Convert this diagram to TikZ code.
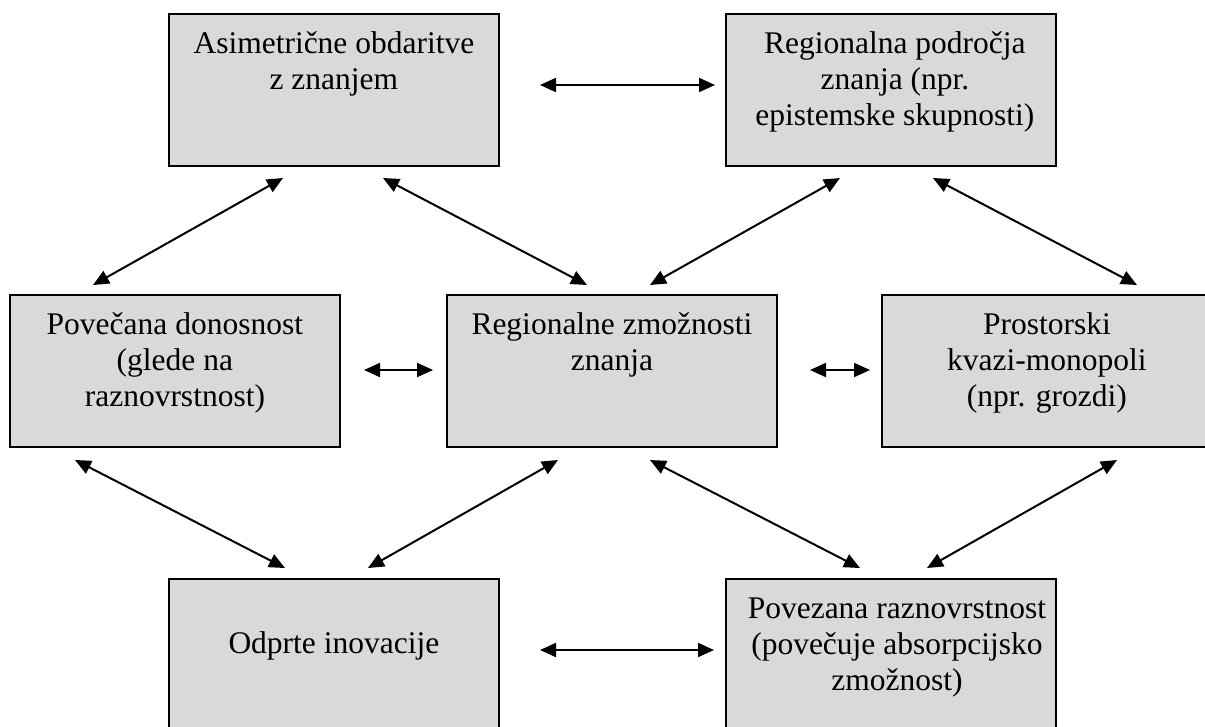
\documentclass[tikz,border=0pt]{standalone}
\usepackage{fontspec}
\setmainfont{Liberation Serif}
\usetikzlibrary{arrows.meta}
\definecolor{boxgray}{HTML}{D9D9D9}
\begin{document}
\begin{tikzpicture}[x=1pt,y=-1pt,
  box/.style={draw=black, line width=1.8pt, fill=boxgray, minimum width=330pt, minimum height=152pt, inner sep=0pt, anchor=north west},
  txt/.style={font=\fontsize{31.5}{36}\selectfont, align=center, inner sep=0pt, anchor=north},
  link/.style={line width=2pt, {Triangle[length=16pt,width=14pt]}-{Triangle[length=16pt,width=14pt]}}]
\useasboundingbox (0,0) rectangle (1205,726);
% boxes
\node[box] (b1) at (168,13) {};
\node[box] (b2) at (725,13) {};
\node[box] (b3) at (9,294) {};
\node[box] (b4) at (446,294) {};
\node[box] (b5) at (881,294) {};
\node[box] (b6) at (168,578) {};
\node[box] (b7) at (725,578) {};
% texts
\node[txt] (t1) at ([yshift=-15pt]b1.north) {\strut Asimetrične obdaritve\\\strut z znanjem};
\node[txt] (t2) at ([xshift=4pt,yshift=-15pt]b2.north) {\strut Regionalna področja\\\strut znanja (npr.\\\strut epistemske skupnosti)};
\node[txt] (t3) at ([yshift=-15pt]b3.north) {\strut Povečana donosnost\\\strut (glede na\\\strut raznovrstnost)};
\node[txt] (t4) at ([yshift=-15pt]b4.north) {\strut Regionalne zmožnosti\\\strut znanja};
\node[txt] (t5) at ([yshift=-15pt]b5.north) {\strut Prostorski\\\strut kvazi-monopoli\\\strut (npr. grozdi)};
\node[txt] (t6) at ([yshift=-50pt]b6.north) {\strut Odprte inovacije};
\node[txt] (t7) at ([xshift=6pt,yshift=-15pt]b7.north) {\strut Povezana raznovrstnost\\\strut (povečuje absorpcijsko\\\strut zmožnost)};
% arrow end points
\coordinate (a1s) at (540,85);   \coordinate (a1e) at (715,85);
\coordinate (a2s) at (283,178);  \coordinate (a2e) at (93,285);
\coordinate (a3s) at (383,178);  \coordinate (a3e) at (587,285);
\coordinate (a4s) at (840,178);  \coordinate (a4e) at (650,285);
\coordinate (a5s) at (933,178);  \coordinate (a5e) at (1137,285);
\coordinate (a6s) at (364,370);  \coordinate (a6e) at (433,370);
\coordinate (a7s) at (810,370);  \coordinate (a7e) at (870,370);
\coordinate (a8s) at (75,460);   \coordinate (a8e) at (285,568);
\coordinate (a9s) at (558,460);  \coordinate (a9e) at (368,568);
\coordinate (a10s) at (650,460); \coordinate (a10e) at (860,568);
\coordinate (a11s) at (1117,460);\coordinate (a11e) at (927,568);
\coordinate (a12s) at (540,650); \coordinate (a12e) at (714,650);
% connectors
\draw[link] (a1s) -- (a1e);
\draw[link] (a2s) -- (a2e);
\draw[link] (a3s) -- (a3e);
\draw[link] (a4s) -- (a4e);
\draw[link] (a5s) -- (a5e);
\draw[link] (a6s) -- (a6e);
\draw[link] (a7s) -- (a7e);
\draw[link] (a8s) -- (a8e);
\draw[link] (a9s) -- (a9e);
\draw[link] (a10s) -- (a10e);
\draw[link] (a11s) -- (a11e);
\draw[link] (a12s) -- (a12e);
\end{tikzpicture}
\end{document}
